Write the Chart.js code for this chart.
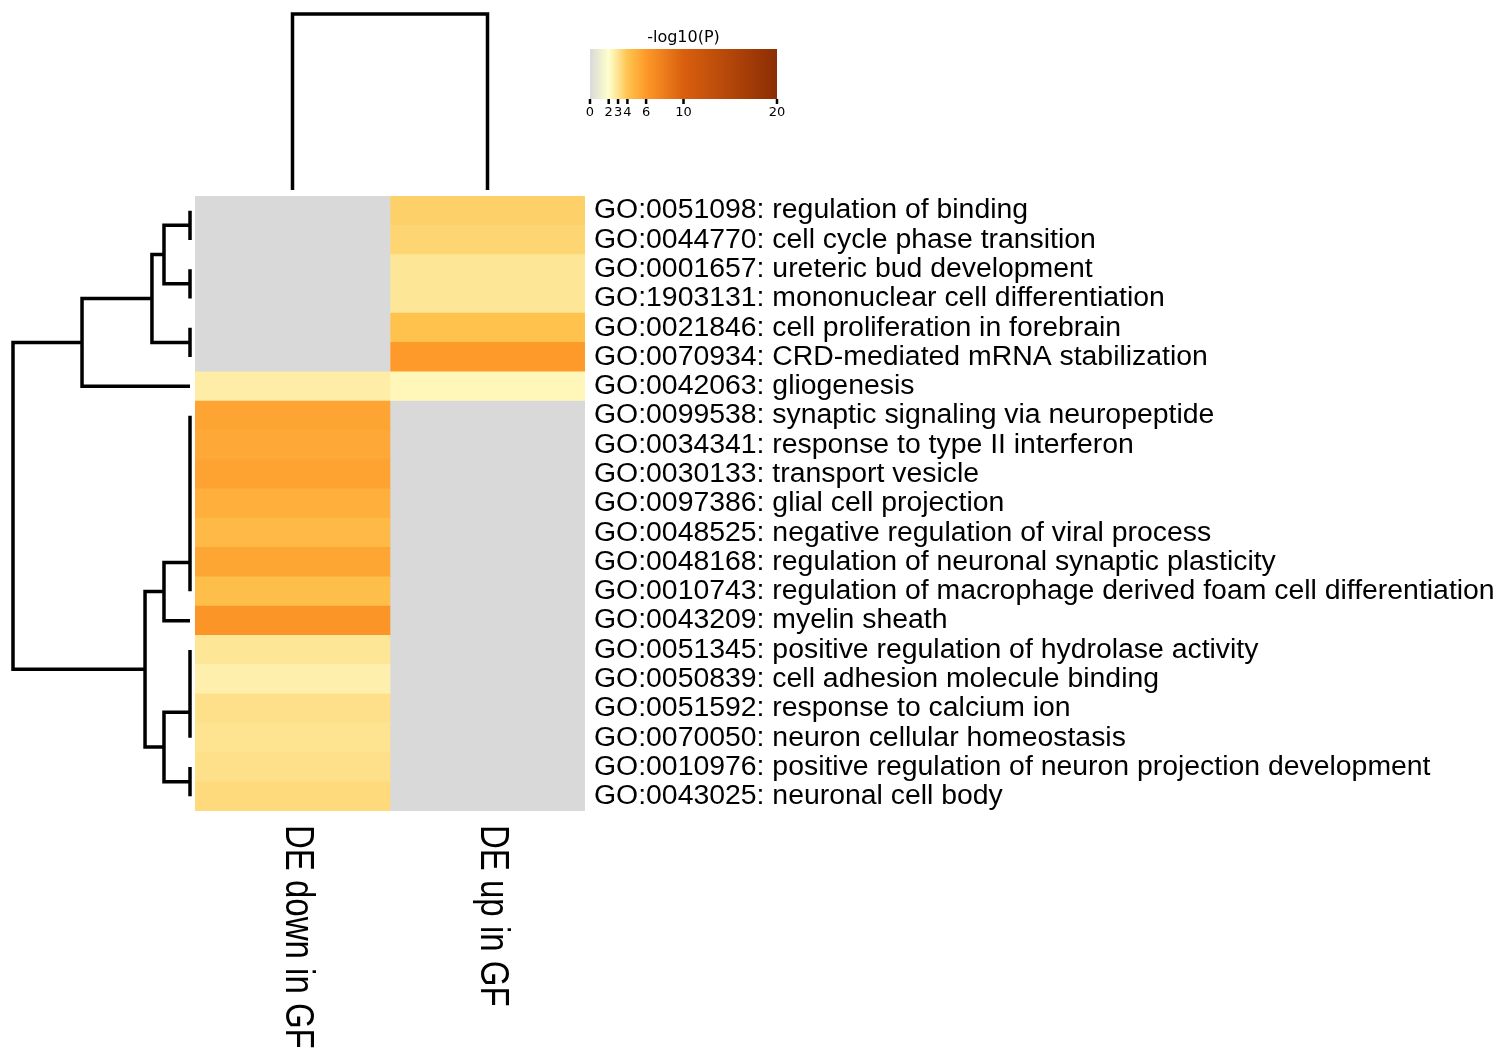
<!DOCTYPE html>
<html>
<head>
<meta charset="utf-8">
<script src="https://cdn.jsdelivr.net/npm/chart.js@4"></script>
<style>
  html, body { margin: 0; padding: 0; background: #fff; }
  canvas { display: block; }
</style>
</head>
<body>
<canvas id="heat" width="1500" height="1055"></canvas>
<script>
// GO terms (rows, top to bottom)
const terms = [
  'GO:0051098: regulation of binding',
  'GO:0044770: cell cycle phase transition',
  'GO:0001657: ureteric bud development',
  'GO:1903131: mononuclear cell differentiation',
  'GO:0021846: cell proliferation in forebrain',
  'GO:0070934: CRD-mediated mRNA stabilization',
  'GO:0042063: gliogenesis',
  'GO:0099538: synaptic signaling via neuropeptide',
  'GO:0034341: response to type II interferon',
  'GO:0030133: transport vesicle',
  'GO:0097386: glial cell projection',
  'GO:0048525: negative regulation of viral process',
  'GO:0048168: regulation of neuronal synaptic plasticity',
  'GO:0010743: regulation of macrophage derived foam cell differentiation',
  'GO:0043209: myelin sheath',
  'GO:0051345: positive regulation of hydrolase activity',
  'GO:0050839: cell adhesion molecule binding',
  'GO:0051592: response to calcium ion',
  'GO:0070050: neuron cellular homeostasis',
  'GO:0010976: positive regulation of neuron projection development',
  'GO:0043025: neuronal cell body'
];

// columns
const groups = ['DE down in GF', 'DE up in GF'];

// -log10(P) per column, null = not enriched (grey)
const downInGF = [null, null, null, null, null, null, 2.65, 5.5, 5.25, 5.55, 5.0, 4.5, 5.4, 4.25, 6.3, 2.9, 2.55, 3.1, 3.0, 3.1, 3.3];
const upInGF = [3.6, 3.45, 2.9, 2.9, 4.1, 5.95, 2.3, null, null, null, null, null, null, null, null, null, null, null, null, null, null];

// colour bar ticks
const cbarTicks = [0, 2, 3, 4, 6, 10, 20];

// row clustering, scipy style: [a, b, height], ids >= 21 are earlier merges
const rowLinkage = [
  [0, 1, 0], [2, 3, 0], [4, 5, 0], [21, 22, 0.147], [24, 23, 0.215], [25, 6, 0.61],
  [7, 8, 0], [27, 9, 0], [28, 10, 0], [29, 11, 0], [30, 12, 0], [31, 13, 0], [32, 14, 0.147],
  [15, 16, 0], [34, 17, 0], [35, 18, 0], [19, 20, 0], [36, 37, 0.147], [33, 38, 0.254],
  [26, 39, 1.0]
];
// column clustering
const colLinkage = [[0, 1, 1.0]];

// colour map stops [value, colour]
const cmapStops = [
  [0, '#d9d9d9'], [2, '#ffffcc'], [3, '#fee391'], [4, '#fec44f'],
  [6, '#fe9929'], [10, '#d95f0e'], [20, '#8c2d04']
];
const naColor = '#d9d9d9';

function hexRgb(h) {
  return [parseInt(h.slice(1, 3), 16), parseInt(h.slice(3, 5), 16), parseInt(h.slice(5, 7), 16)];
}
function colorFor(v) {
  if (v === null) return naColor;
  v = Math.max(0, Math.min(20, v));
  for (let i = 1; i < cmapStops.length; i++) {
    const [v1, c1] = cmapStops[i];
    const [v0, c0] = cmapStops[i - 1];
    if (v <= v1) {
      const t = (v - v0) / (v1 - v0);
      const a = hexRgb(c0), b = hexRgb(c1);
      const c = a.map((x, k) => Math.round(x + (b[k] - x) * t));
      return 'rgb(' + c.join(',') + ')';
    }
  }
  return cmapStops[cmapStops.length - 1][1];
}

const columns = [downInGF, upInGF];

// draws a dendrogram from a linkage; leafPos = pixel positions along the leaf axis
function drawDendro(ctx, linkage, leafPos, hToPx, vertical) {
  const pos = leafPos.slice();
  const hts = leafPos.map(() => 0);
  ctx.beginPath();
  linkage.forEach(([a, b, h]) => {
    const pa = pos[a], pb = pos[b];
    const ha = hToPx(hts[a]), hb = hToPx(hts[b]), hh = hToPx(h);
    if (vertical) {
      ctx.moveTo(pa, ha); ctx.lineTo(pa, hh); ctx.lineTo(pb, hh); ctx.lineTo(pb, hb);
    } else {
      ctx.moveTo(ha, pa); ctx.lineTo(hh, pa); ctx.lineTo(hh, pb); ctx.lineTo(hb, pb);
    }
    pos.push((pa + pb) / 2);
    hts.push(h);
  });
  ctx.stroke();
}

const extras = {
  id: 'extras',
  afterDraw(chart) {
    const ctx = chart.ctx;
    const area = chart.chartArea;
    const xs = chart.scales.x, ys = chart.scales.y;
    ctx.save();
    ctx.strokeStyle = '#000';
    ctx.lineWidth = 3.5;
    ctx.lineCap = 'butt';
    ctx.lineJoin = 'miter';

    // row dendrogram (left)
    const rowLeaves = terms.map((t, i) => ys.getPixelForValue(i));
    const x0 = area.left - 5, xTop = 13;
    drawDendro(ctx, rowLinkage, rowLeaves, h => x0 - h * (x0 - xTop), false);

    // column dendrogram (top)
    const colLeaves = groups.map((g, i) => xs.getPixelForValue(i + 0.5));
    const y0 = area.top - 6, yTop = 14;
    drawDendro(ctx, colLinkage, colLeaves, h => y0 - h * (y0 - yTop), true);

    // column labels, rotated clockwise
    ctx.fillStyle = '#000';
    ctx.font = '33px "Liberation Sans", Arial, sans-serif';
    ctx.textAlign = 'left';
    ctx.textBaseline = 'middle';
    groups.forEach((g, i) => {
      ctx.save();
      ctx.translate(xs.getPixelForValue(i + 0.5) + 5, area.bottom + 14);
      ctx.rotate(Math.PI / 2);
      ctx.scale(1, 1.26);
      ctx.fillText(g, 0, 0);
      ctx.restore();
    });

    // colour bar
    const cbL = area.right + 5, cbR = cbL + 187, cbT = 49, cbB = 99;
    const toX = v => cbL + (v / 20) * (cbR - cbL);
    const grad = ctx.createLinearGradient(cbL, 0, cbR, 0);
    for (let v = 0; v <= 20; v += 0.25) grad.addColorStop(v / 20, colorFor(v));
    ctx.fillStyle = grad;
    ctx.fillRect(cbL, cbT, cbR - cbL, cbB - cbT);

    ctx.fillStyle = '#000';
    ctx.font = '16px "DejaVu Sans", sans-serif';
    ctx.textAlign = 'center';
    ctx.textBaseline = 'alphabetic';
    ctx.fillText('-log10(P)', (cbL + cbR) / 2, 42);

    ctx.lineWidth = 2.5;
    ctx.font = '13px "DejaVu Sans", sans-serif';
    ctx.textBaseline = 'top';
    ctx.beginPath();
    cbarTicks.forEach(v => {
      const x = toX(v);
      ctx.moveTo(x, cbB); ctx.lineTo(x, cbB + 5);
      ctx.fillText(String(v), x, cbB + 7);
    });
    ctx.stroke();
    ctx.restore();
  }
};

new Chart(document.getElementById('heat').getContext('2d'), {
  type: 'bar',
  data: {
    labels: terms,
    datasets: columns.map((vals, c) => ({
      label: groups[c],
      data: vals.map(() => 1),
      backgroundColor: vals.map(colorFor),
      borderWidth: 0,
      barPercentage: 1,
      categoryPercentage: 1
    }))
  },
  options: {
    indexAxis: 'y',
    responsive: false,
    animation: false,
    layout: { padding: { left: 195, top: 196, bottom: 244, right: 0 } },
    plugins: { legend: { display: false }, tooltip: { enabled: false } },
    scales: {
      x: { display: false, stacked: true, min: 0, max: 2 },
      y: {
        position: 'right',
        stacked: true,
        grid: { display: false, drawTicks: false },
        border: { display: false },
        ticks: {
          autoSkip: false,
          padding: 9,
          color: '#000',
          font: { family: '"Liberation Sans", Arial, sans-serif', size: 28.4 }
        },
        afterFit(scale) { scale.width = 915; }
      }
    }
  },
  plugins: [extras]
});
</script>
</body>
</html>
